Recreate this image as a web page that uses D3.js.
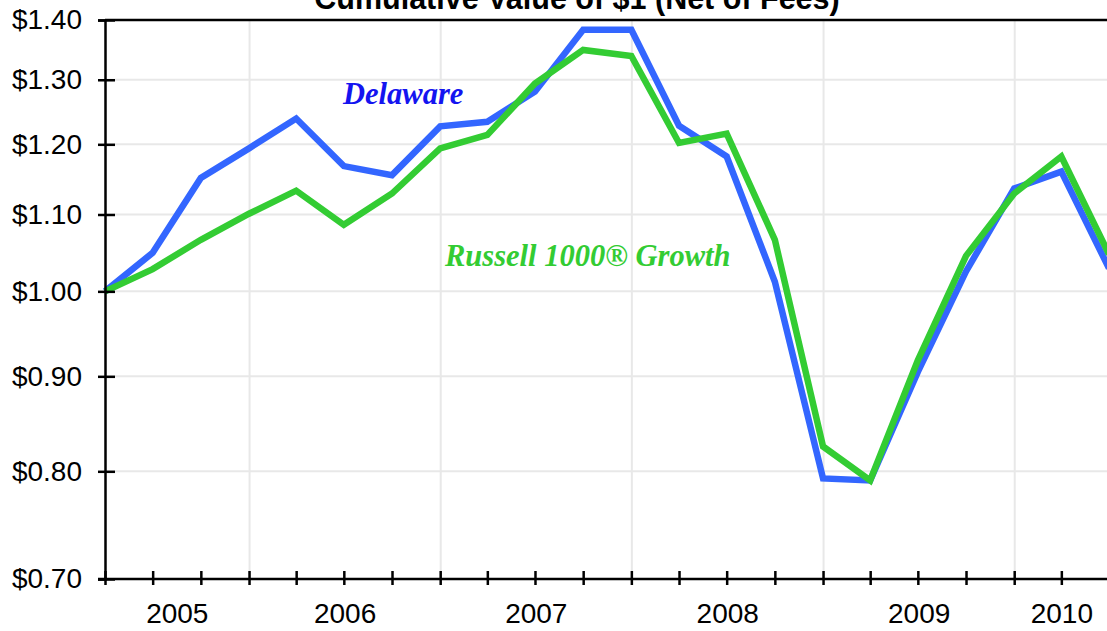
<!DOCTYPE html>
<html>
<head>
    <meta charset="utf-8">
    <title>Cumulative Value of $1 (Net of Fees)</title>
    <script src="https://d3js.org/d3.v7.min.js"></script>
    <style>
        body { margin: 0; background: #fff; }
        svg { display: block; }
    </style>
</head>
<body>
    <svg id="chart" width="1107" height="631"></svg>

    <script>
        // quarter ends
        const dates = ["2005-03-31", "2005-06-30", "2005-09-30", "2005-12-31",
                       "2006-03-31", "2006-06-30", "2006-09-30", "2006-12-31",
                       "2007-03-31", "2007-06-30", "2007-09-30", "2007-12-31",
                       "2008-03-31", "2008-06-30", "2008-09-30", "2008-12-31",
                       "2009-03-31", "2009-06-30", "2009-09-30", "2009-12-31",
                       "2010-03-31", "2010-06-30"];
        const delaware = [1.00, 1.049, 1.151, 1.194, 1.239, 1.168, 1.155, 1.227, 1.234, 1.281, 1.383,
                          1.383, 1.228, 1.182, 1.012, 0.793, 0.791, 0.905, 1.025, 1.136, 1.160, 1.029];
        const russell = [1.00, 1.028, 1.066, 1.101, 1.133, 1.086, 1.129, 1.194, 1.214, 1.294, 1.349,
                         1.339, 1.202, 1.216, 1.066, 0.825, 0.791, 0.918, 1.045, 1.129, 1.182, 1.047];
        const yTicks = [0.70, 0.80, 0.90, 1.00, 1.10, 1.20, 1.30, 1.40];
        const years = [2005, 2006, 2007, 2008, 2009, 2010];

        const parse = d3.timeParse("%Y-%m-%d");
        const qDates = dates.map(parse);

        const svg = d3.select("#chart");
        const mLeft = 105, mTop = 20, mBottom = 579, mRight = 1109;

        const x = d3.scaleTime()
            .domain(d3.extent(qDates))
            .range([mLeft, mRight]);
        const y = d3.scaleLog()
            .domain([0.7, 1.4])
            .range([mBottom, mTop]);

        // grid
        svg.append("g")
            .selectAll("line")
            .data(yTicks.slice(1, -1))
            .join("line")
            .attr("x1", mLeft).attr("x2", 1107)
            .attr("y1", d => y(d)).attr("y2", d => y(d))
            .attr("stroke", "#e8e8e8").attr("stroke-width", 2);

        svg.append("g")
            .selectAll("line")
            .data(years.slice(1))
            .join("line")
            .attr("x1", d => x(new Date(d, 0, 1))).attr("x2", d => x(new Date(d, 0, 1)))
            .attr("y1", mTop).attr("y2", mBottom)
            .attr("stroke", "#e8e8e8").attr("stroke-width", 2);

        // lines
        const line = d3.line()
            .x((d, i) => x(qDates[i]))
            .y(d => y(d));

        svg.append("path")
            .datum(delaware)
            .attr("d", line)
            .attr("fill", "none")
            .attr("stroke", "#3366ff")
            .attr("stroke-width", 6.5)
            .attr("stroke-linejoin", "miter");

        svg.append("path")
            .datum(russell)
            .attr("d", line)
            .attr("fill", "none")
            .attr("stroke", "#33cc33")
            .attr("stroke-width", 6.5)
            .attr("stroke-linejoin", "miter");

        // top border
        svg.append("line")
            .attr("x1", mLeft).attr("x2", 1107)
            .attr("y1", mTop).attr("y2", mTop)
            .attr("stroke", "#000").attr("stroke-width", 2.5);

        // y axis
        const yAxis = svg.append("g")
            .attr("transform", `translate(${mLeft},0)`)
            .call(d3.axisLeft(y)
                .tickValues(yTicks)
                .tickFormat(d => "$" + d.toFixed(2))
                .tickSize(7)
                .tickPadding(16));
        yAxis.select(".domain").attr("stroke-width", 2.5);
        yAxis.selectAll(".tick line").attr("x2", 10).attr("x1", -7).attr("stroke-width", 2.5);
        yAxis.selectAll("text")
            .attr("font-family", "'Liberation Sans', Arial, sans-serif")
            .attr("font-size", 28)
            .attr("fill", "#000");

        // x axis
        const xAxis = svg.append("g")
            .attr("transform", `translate(0,${mBottom})`)
            .call(d3.axisBottom(x)
                .tickValues(qDates)
                .tickFormat("")
                .tickSizeOuter(0));
        xAxis.select(".domain").attr("d", `M${mLeft - 7},0H1107`).attr("stroke-width", 2.5);
        xAxis.selectAll(".tick line").attr("y1", -8).attr("y2", 6).attr("stroke-width", 2.5);

        // year labels centred in the visible part of each year
        const [d0, d1] = x.domain();
        svg.append("g")
            .selectAll("text")
            .data(years)
            .join("text")
            .attr("x", d => {
                const a = Math.max(+new Date(d, 0, 1), +d0);
                const b = Math.min(+new Date(d + 1, 0, 1), +d1);
                return x(new Date((a + b) / 2));
            })
            .attr("y", 623)
            .attr("text-anchor", "middle")
            .attr("font-family", "'Liberation Sans', Arial, sans-serif")
            .attr("font-size", 28)
            .text(d => d);

        // title (cut off at the top, as in the source)
        svg.append("text")
            .attr("x", 577)
            .attr("y", 9)
            .attr("text-anchor", "middle")
            .attr("font-family", "'Liberation Sans', Arial, sans-serif")
            .attr("font-weight", "bold")
            .attr("font-size", 30.5)
            .text("Cumulative Value of $1 (Net of Fees)");

        // series labels
        svg.append("text")
            .attr("x", 343).attr("y", 104)
            .attr("font-family", "'Liberation Serif', 'Times New Roman', serif")
            .attr("font-weight", "bold").attr("font-style", "italic")
            .attr("font-size", 30.5)
            .attr("fill", "#1414f0")
            .text("Delaware");

        svg.append("text")
            .attr("x", 445).attr("y", 266)
            .attr("font-family", "'Liberation Serif', 'Times New Roman', serif")
            .attr("font-weight", "bold").attr("font-style", "italic")
            .attr("font-size", 30.5)
            .attr("fill", "#33cc33")
            .text("Russell 1000® Growth");
    </script>
</body>
</html>
